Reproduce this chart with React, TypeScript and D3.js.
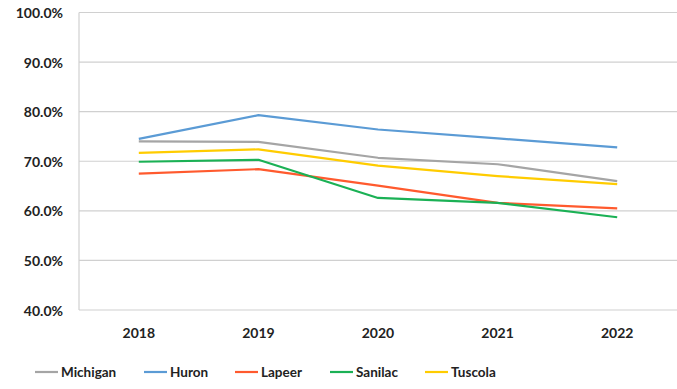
import React from "react";
import * as d3 from "d3";

const years = ["2018", "2019", "2020", "2021", "2022"];
const michigan = [74.0, 73.9, 70.7, 69.4, 66.0];
const huron = [74.5, 79.3, 76.4, 74.6, 72.8];
const lapeer = [67.5, 68.4, 65.1, 61.6, 60.5];
const sanilac = [69.9, 70.3, 62.6, 61.6, 58.7];
const tuscola = [71.7, 72.4, 69.1, 67.0, 65.4];
const yTicks = [40, 50, 60, 70, 80, 90, 100];

const seriesNames = ["Michigan", "Huron", "Lapeer", "Sanilac", "Tuscola"];
const seriesValues = [michigan, huron, lapeer, sanilac, tuscola];
const colors = ["#A5A5A5", "#5B9BD5", "#FF5A2E", "#1BB155", "#FFCC00"];
const legendX = [35, 144, 235, 330, 425];

export default function App() {
  const W = 677, H = 389;
  const left = 79, right = 677, top = 12.5, bottom = 310;
  const x = d3.scaleBand<string>().domain(years).range([left, right]);
  const y = d3.scaleLinear().domain([40, 100]).range([bottom, top]);
  const line = d3
    .line<number>()
    .x((_, i) => (x(years[i]) as number) + x.bandwidth() / 2)
    .y((d) => y(d));
  const font = "Lato, 'Open Sans', sans-serif";
  return (
    <svg
      width={W}
      height={H}
      style={{ position: "absolute", left: 0, top: 0, background: "#fff" }}
      fontFamily={font}
    >
      {yTicks.map((t) => (
        <g key={t}>
          <line x1={left} x2={right} y1={y(t)} y2={y(t)} stroke="#D0D0D0" strokeWidth={1.2} />
          <text
            x={63}
            y={y(t)}
            textAnchor="end"
            dominantBaseline="central"
            fontSize={14}
            fontWeight="bold"
            fill="#222"
          >
            {t.toFixed(1)}%
          </text>
        </g>
      ))}
      <line x1={left} x2={left} y1={top} y2={bottom} stroke="#D0D0D0" strokeWidth={1.2} />
      {years.map((yr) => (
        <text
          key={yr}
          x={(x(yr) as number) + x.bandwidth() / 2}
          y={332}
          textAnchor="middle"
          dominantBaseline="central"
          fontSize={14}
          fontWeight="bold"
          fill="#222"
        >
          {yr}
        </text>
      ))}
      {seriesValues.map((vals, i) => (
        <path
          key={seriesNames[i]}
          d={line(vals) || ""}
          fill="none"
          stroke={colors[i]}
          strokeWidth={2.2}
          strokeLinejoin="round"
        />
      ))}
      {seriesNames.map((n, i) => (
        <g key={n}>
          <line
            x1={legendX[i]}
            x2={legendX[i] + 23}
            y1={372}
            y2={372}
            stroke={colors[i]}
            strokeWidth={2.2}
          />
          <text
            x={legendX[i] + 26}
            y={372}
            dominantBaseline="central"
            fontSize={13.5}
            fontWeight="bold"
            fill="#222"
          >
            {n}
          </text>
        </g>
      ))}
    </svg>
  );
}
